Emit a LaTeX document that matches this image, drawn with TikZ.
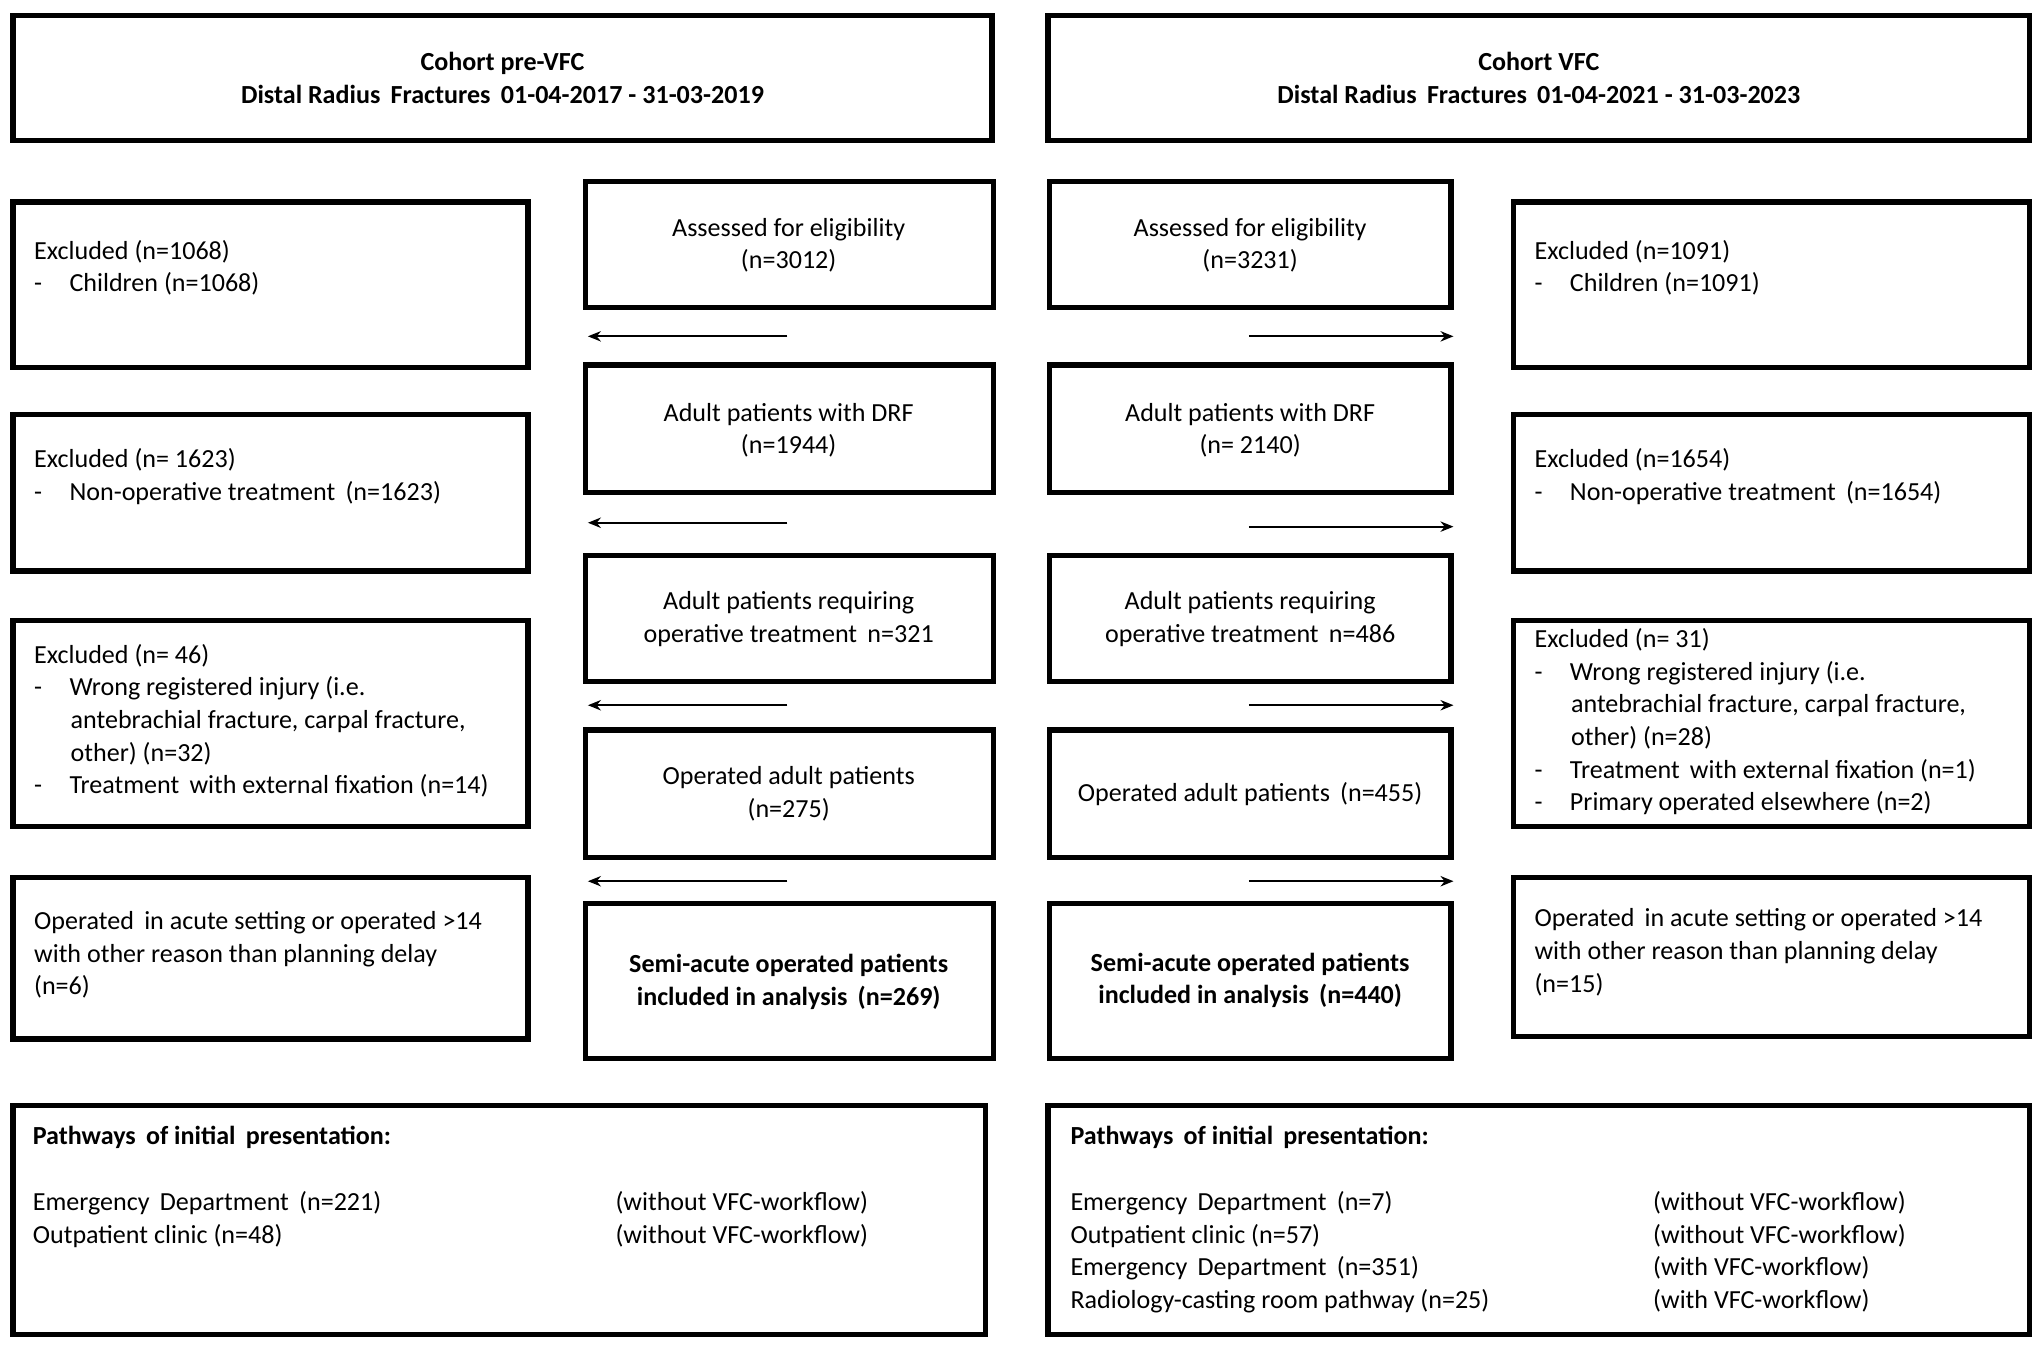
\documentclass[tikz,border=0pt]{standalone}
\usepackage{fontspec}
\setmainfont{Carlito}
\usetikzlibrary{arrows.meta}
\newcommand{\ds}{-\hspace{21pt}}
\newcommand{\ci}{\hspace{28pt}}
\begin{document}
\begin{tikzpicture}[x=1pt,y=-1pt,
 bx/.style={draw,line width=4pt},
 tx/.style={font=\fontsize{20}{25}\selectfont,align=center},
 lt/.style={font=\fontsize{20}{25}\selectfont,align=left,anchor=north west,inner sep=0pt},
 ar/.style={-{Stealth[length=10pt,width=8pt]},line width=1.3pt}]
\useasboundingbox (0,0) rectangle (1568,1034);
% top
\draw[bx] (10,12) rectangle (761,108) node[midway,tx] (tl) {\textbf{Cohort pre-VFC}\\\textbf{Distal Radius\, Fractures\, 01-04-2017 - 31-03-2019}};
\draw[bx] (804,12) rectangle (1557,108) node[midway,tx] (tr) {\textbf{Cohort VFC}\\\textbf{Distal Radius\, Fractures\, 01-04-2021 - 31-03-2023}};
% center columns
\foreach \n/\a/\b in {1/139/236,2/280/378,3/426/523,4/560/658,5/693/812}{
 \draw[bx] (449,\a) rectangle (762,\b) coordinate (L\n);
 \draw[bx] (805,\a) rectangle (1113,\b) coordinate (R\n);
}
\node[tx] (c1) at (605,188) {Assessed for eligibility\\(n=3012)};
\node[tx] (c2) at (605,330) {Adult patients with DRF\\(n=1944)};
\node[tx] (c3) at (605,475) {Adult patients requiring\\operative treatment\, n=321};
\node[tx] (c4) at (605,609) {Operated adult patients\\(n=275)};
\node[tx] (c5) at (605,753) {\textbf{Semi-acute operated patients}\\\textbf{included in analysis\, (n=269)}};
\node[tx] (d1) at (959,188) {Assessed for eligibility\\(n=3231)};
\node[tx] (d2) at (959,330) {Adult patients with DRF\\(n= 2140)};
\node[tx] (d3) at (959,475) {Adult patients requiring\\operative treatment\, n=486};
\node[tx] (d4) at (959,609) {Operated adult patients\, (n=455)};
\node[tx] (d5) at (959,752) {\textbf{Semi-acute operated patients}\\\textbf{included in analysis\, (n=440)}};
% left excluded
\draw[bx] (10,155) rectangle (405,282);
\draw[bx] (10,318) rectangle (405,438);
\draw[bx] (10,476) rectangle (405,634);
\draw[bx] (10,673) rectangle (405,797);
\node[lt] (e1) at (26,184) {Excluded (n=1068)\\\ds Children (n=1068)};
\node[lt] (e2) at (26,344) {Excluded (n= 1623)\\\ds Non-operative treatment\, (n=1623)};
\node[lt] (e3) at (26,494) {Excluded (n= 46)\\\ds Wrong registered injury (i.e.\\\ci antebrachial fracture, carpal fracture,\\\ci other) (n=32)\\\ds Treatment\, with external fixation (n=14)};
\node[lt] (e4) at (26,699) {Operated\, in acute setting or operated >14\\with other reason than planning delay\\(n=6)};
% right excluded
\draw[bx] (1161,155) rectangle (1557,282);
\draw[bx] (1161,318) rectangle (1557,438);
\draw[bx] (1161,476) rectangle (1557,634);
\draw[bx] (1161,673) rectangle (1557,795);
\node[lt] (f1) at (1177,184) {Excluded (n=1091)\\\ds Children (n=1091)};
\node[lt] (f2) at (1177,344) {Excluded (n=1654)\\\ds Non-operative treatment\, (n=1654)};
\node[lt] (f3) at (1177,482) {Excluded (n= 31)\\\ds Wrong registered injury (i.e.\\\ci antebrachial fracture, carpal fracture,\\\ci other) (n=28)\\\ds Treatment\, with external fixation (n=1)\\\ds Primary operated elsewhere (n=2)};
\node[lt] (f4) at (1177,697) {Operated\, in acute setting or operated >14\\with other reason than planning delay\\(n=15)};
% arrows
\foreach \y [count=\i] in {258,401,541,676}{
 \coordinate (la\i) at (604,\y); \coordinate (lb\i) at (451,\y);
 \draw[ar] (la\i) -- (lb\i);
}
\foreach \y [count=\i] in {258,404,541,676}{
 \coordinate (ra\i) at (958,\y); \coordinate (rb\i) at (1115,\y);
 \draw[ar] (ra\i) -- (rb\i);
}
% bottom
\draw[bx] (10,848) rectangle (756,1024);
\draw[bx] (804,848) rectangle (1557,1024);
\node[lt] (g1) at (25,864) {\textbf{Pathways\, of initial\, presentation:}};
\node[lt] (g2) at (25,914) {Emergency\, Department\, (n=221)\\Outpatient clinic (n=48)};
\node[lt] (g3) at (472,914) {(without VFC-workflow)\\(without VFC-workflow)};
\node[lt] (h1) at (821,864) {\textbf{Pathways\, of initial\, presentation:}};
\node[lt] (h2) at (821,914) {Emergency\, Department\, (n=7)\\Outpatient clinic (n=57)\\Emergency\, Department\, (n=351)\\Radiology-casting room pathway (n=25)};
\node[lt] (h3) at (1268,914) {(without VFC-workflow)\\(without VFC-workflow)\\(with VFC-workflow)\\(with VFC-workflow)};
\end{tikzpicture}
\end{document}
